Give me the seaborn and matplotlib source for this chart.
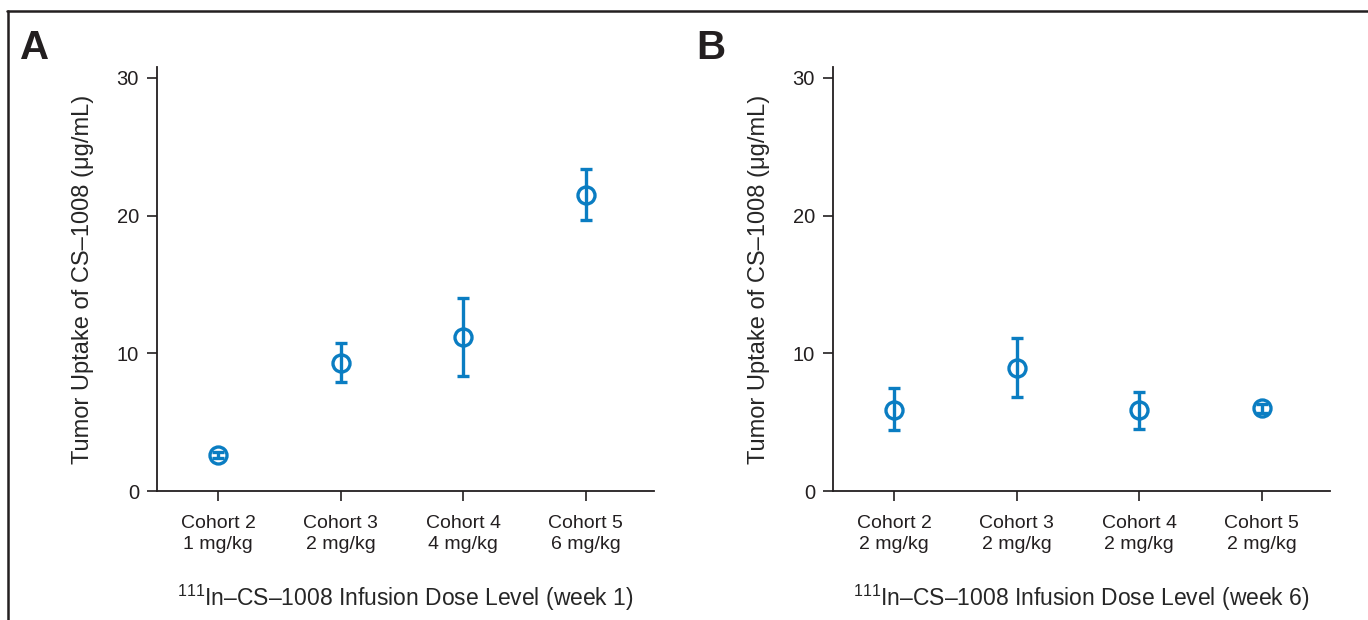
import matplotlib
matplotlib.use("Agg")
import matplotlib.pyplot as plt
import seaborn as sns
import pandas as pd
from matplotlib.lines import Line2D

# Data
cohorts = ["Cohort 2", "Cohort 3", "Cohort 4", "Cohort 5"]
doses_w1 = ["1 mg/kg", "2 mg/kg", "4 mg/kg", "6 mg/kg"]
doses_w6 = ["2 mg/kg", "2 mg/kg", "2 mg/kg", "2 mg/kg"]

mean_w1 = [2.6, 9.3, 11.2, 21.5]
low_w1 = [2.4, 7.9, 8.35, 19.7]
high_w1 = [2.8, 10.75, 14.0, 23.4]

mean_w6 = [5.9, 8.95, 5.85, 6.0]
low_w6 = [4.45, 6.8, 4.5, 5.7]
high_w6 = [7.45, 11.15, 7.2, 6.3]

BLUE = "#0a7dc2"
DARK = "#231f20"

sns.set_theme(style="ticks")
plt.rcParams["font.family"] = ["Liberation Sans", "DejaVu Sans"]
plt.rcParams.update({
    "axes.edgecolor": DARK,
    "axes.linewidth": 1.3,
    "xtick.color": DARK,
    "ytick.color": DARK,
    "text.color": DARK,
    "mathtext.fontset": "custom",
    "mathtext.rm": "Liberation Sans",
    "mathtext.it": "Liberation Sans:italic",
    "mathtext.bf": "Liberation Sans:bold",
})

fig = plt.figure(figsize=(13.68, 6.2), dpi=100)

panels = [
    ("A", 0.1148, doses_w1, mean_w1, low_w1, high_w1, "week 1"),
    ("B", 0.6089, doses_w6, mean_w6, low_w6, high_w6, "week 6"),
]

for letter, left, doses, mean, low, high, week in panels:
    ax = fig.add_axes([left, 0.208, 0.3635, 0.684])
    labels = [f"{c}\n{d}" for c, d in zip(cohorts, doses)]
    df = pd.DataFrame({"pos": range(len(cohorts)), "mean": mean,
                       "low": low, "high": high})
    yerr = [df["mean"] - df["low"], df["high"] - df["mean"]]
    sns.scatterplot(data=df, x="pos", y="mean", ax=ax, marker="o", s=150,
                    facecolor="white", edgecolor=BLUE, linewidth=2.4, zorder=3)
    # bars drawn over the white marker face, like the original
    ax.errorbar(df["pos"], df["mean"], yerr=yerr, fmt="none", ecolor=BLUE,
                elinewidth=2.4, capsize=4.5, capthick=2.4, zorder=4)

    ax.set_xlim(-0.5, 3.56)
    ax.set_ylim(0, 30.8)
    ax.set_yticks([0, 10, 20, 30])
    ax.set_xticks(range(len(cohorts)))
    ax.set_xticklabels(labels, fontsize=14, linespacing=1.3)
    ax.tick_params(axis="both", length=7, width=1.2)
    ax.tick_params(axis="x", pad=10)
    ax.tick_params(axis="y", labelsize=14.5, pad=6)
    sns.despine(ax=ax)
    ax.set_xlabel("$^{111}$In\u2013CS\u20131008 Infusion Dose Level (" + week + ")",
                  fontsize=16.5, labelpad=22)
    ax.set_ylabel("Tumor Uptake of CS\u20131008 (\u03bcg/mL)", fontsize=17,
                  labelpad=16)
    fig.text(left - 0.1, 0.905, letter, fontsize=29, fontweight="bold",
             ha="left", va="baseline")

# partial frame: top and left edges
fig.add_artist(Line2D([0.005, 1.0], [0.982, 0.982], transform=fig.transFigure,
                      color=DARK, linewidth=1.8))
fig.add_artist(Line2D([0.0055, 0.0055], [0.0, 0.982], transform=fig.transFigure,
                      color=DARK, linewidth=1.8))

fig.savefig("out.png", dpi=100)
